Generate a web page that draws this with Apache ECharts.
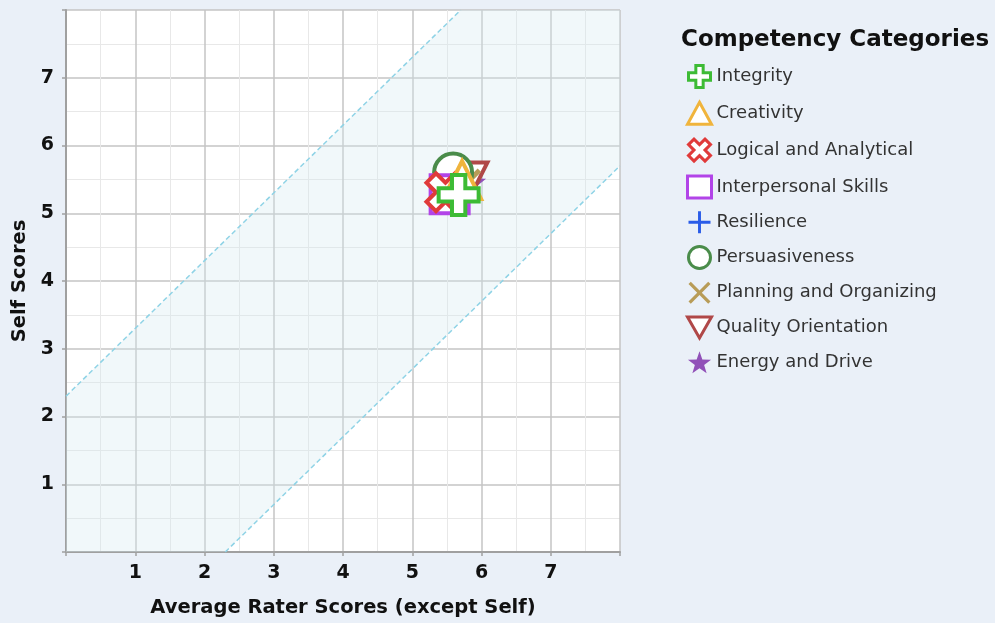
<!DOCTYPE html>
<html>
<head>
<meta charset="utf-8">
<script src="https://cdn.jsdelivr.net/npm/echarts@6/dist/echarts.min.js"></script>
<style>
html,body{margin:0;padding:0;background:#eaf0f8;}
#chart{width:995px;height:623px;}
</style>
</head>
<body>
<div id="chart"></div>
<script>
const categories = ['Integrity','Creativity','Logical and Analytical','Interpersonal Skills','Resilience','Persuasiveness','Planning and Organizing','Quality Orientation','Energy and Drive'];
const raterScores = [5.67, 5.72, 5.48, 5.54, 5.67, 5.59, 5.75, 5.84, 5.82];
const selfScores  = [5.27, 5.49, 5.31, 5.28, 5.27, 5.60, 5.41, 5.50, 5.45];
const tickValues = [1, 2, 3, 4, 5, 6, 7];
const axisMin = 0, axisMax = 8;
const bandOffset = 2.3;

const FONT = 'DejaVu Sans';

function toPath(pts){
  return 'path://' + pts.map((p, k) => (k ? 'L' : 'M') + p[0].toFixed(3) + ',' + p[1].toFixed(3)).join('') + 'Z';
}
function rot45(pts){
  const r = Math.SQRT1_2;
  return pts.map(p => [(p[0] - p[1]) * r, (p[0] + p[1]) * r]);
}
function plusPts(w){
  return [[-w,-3],[w,-3],[w,-w],[3,-w],[3,w],[w,w],[w,3],[-w,3],[-w,w],[-3,w],[-3,-w],[-w,-w]];
}
const plusPath = toPath(plusPts(1));
const fatXPath = toPath(rot45(plusPts(1)));
const thinPlusPath = toPath(plusPts(0.4));
const thinXPath = toPath(rot45(plusPts(0.35)));
const downTriPath = 'path://M-1,-0.87L1,-0.87L0,0.87Z';
const starPath = 'path://M0,-10L2.35,-3.24L9.51,-3.09L3.8,1.24L5.88,8.09L0,4L-5.88,8.09L-3.8,1.24L-9.51,-3.09L-2.35,-3.24Z';

const styles = [
  {symbol: plusPath, size: 40, color: '#ffffff', border: '#3dbb35', bw: 4, lbw: 3},
  {symbol: 'triangle', size: 38, color: '#ffffff', border: '#f0b43c', bw: 4, lbw: 3},
  {symbol: fatXPath, size: 38, color: '#ffffff', border: '#e03a3a', bw: 4, lbw: 3},
  {symbol: 'rect', size: 38, color: '#ffffff', border: '#b244e8', bw: 4, lbw: 3},
  {symbol: thinPlusPath, size: 30, color: '#2a5ce8', border: '#2a5ce8', bw: 0, lbw: 0},
  {symbol: 'circle', size: 38, color: '#ffffff', border: '#4a8c4a', bw: 4, lbw: 3},
  {symbol: thinXPath, size: 34, color: '#b89c58', border: '#b89c58', bw: 0, lbw: 0},
  {symbol: downTriPath, size: 34, color: '#ffffff', border: '#b04848', bw: 4, lbw: 3},
  {symbol: starPath, size: 34, color: '#9050b8', border: '#9050b8', bw: 0, lbw: 0}
];

function bandPolygon(off){
  return [
    [axisMin, axisMin],
    [axisMin, axisMin + off],
    [axisMax - off, axisMax],
    [axisMax, axisMax],
    [axisMax, axisMax - off],
    [axisMin + off, axisMin]
  ];
}

const series = [];
series.push({
  type: 'custom', silent: true, z: 1, data: [0],
  renderItem: function(params, api){
    const pts = bandPolygon(bandOffset).map(p => api.coord(p));
    return {type: 'polygon', shape: {points: pts}, style: {fill: 'rgba(210,233,240,0.32)'}};
  }
});
series.push({
  type: 'line', silent: true, z: 1.5, symbol: 'none',
  data: [[axisMin, axisMin + bandOffset],[axisMax - bandOffset, axisMax]],
  lineStyle: {color: '#8fd3e6', width: 1.5, type: [5, 3]}
});
series.push({
  type: 'line', silent: true, z: 1.5, symbol: 'none',
  data: [[axisMin + bandOffset, axisMin],[axisMax, axisMax - bandOffset]],
  lineStyle: {color: '#8fd3e6', width: 1.5, type: [5, 3]}
});

categories.forEach((name, i) => {
  const s = styles[i];
  series.push({
    type: 'scatter', name: name, z: 20 - i,
    symbol: s.symbol, symbolSize: s.size,
    itemStyle: {color: s.color, borderColor: s.border, borderWidth: s.bw, opacity: 1},
    data: [[raterScores[i], selfScores[i]]]
  });
});

const axisCommon = {
  type: 'value', min: axisMin, max: axisMax, interval: 1,
  axisLine: {show: true, onZero: false, lineStyle: {color: '#a0a0a0', width: 2}},
  axisTick: {show: true, length: 4, lineStyle: {color: '#a0a0a0', width: 1.5}},
  splitLine: {show: true, lineStyle: {color: '#c4c4c4', width: 1.5}},
  minorTick: {show: false, splitNumber: 2},
  minorSplitLine: {show: true, lineStyle: {color: '#e8e8e8', width: 1}},
  axisLabel: {
    color: '#111', fontWeight: 'bold', fontSize: 19, fontFamily: FONT, margin: 12,
    formatter: v => tickValues.indexOf(v) >= 0 ? String(v) : ''
  },
  nameLocation: 'middle',
  nameTextStyle: {color: '#111', fontWeight: 'bold', fontSize: 19.5, fontFamily: FONT}
};

const chart = echarts.init(document.getElementById('chart'), null, {renderer: 'canvas'});
chart.setOption({
  animation: false,
  backgroundColor: '#eaf0f8',
  title: {
    text: 'Competency Categories', left: 676, top: 24,
    textStyle: {color: '#111', fontWeight: 'bold', fontSize: 23, fontFamily: FONT}
  },
  legend: {
    orient: 'vertical', left: 681, top: 59,
    itemWidth: 24, itemHeight: 22, itemGap: 11.8,
    data: categories.map((n, i) => ({name: n, itemStyle: {borderWidth: styles[i].lbw}})),
    textStyle: {color: '#333', fontSize: 18, fontFamily: FONT}
  },
  grid: {left: 66, top: 10, right: 375, bottom: 71, containLabel: false, show: true, backgroundColor: '#ffffff', borderWidth: 0},
  xAxis: Object.assign({}, axisCommon, {name: 'Average Rater Scores (except Self)', nameGap: 46}),
  yAxis: Object.assign({}, axisCommon, {name: 'Self Scores', nameGap: 34}),
  series: series
});
</script>
</body>
</html>
